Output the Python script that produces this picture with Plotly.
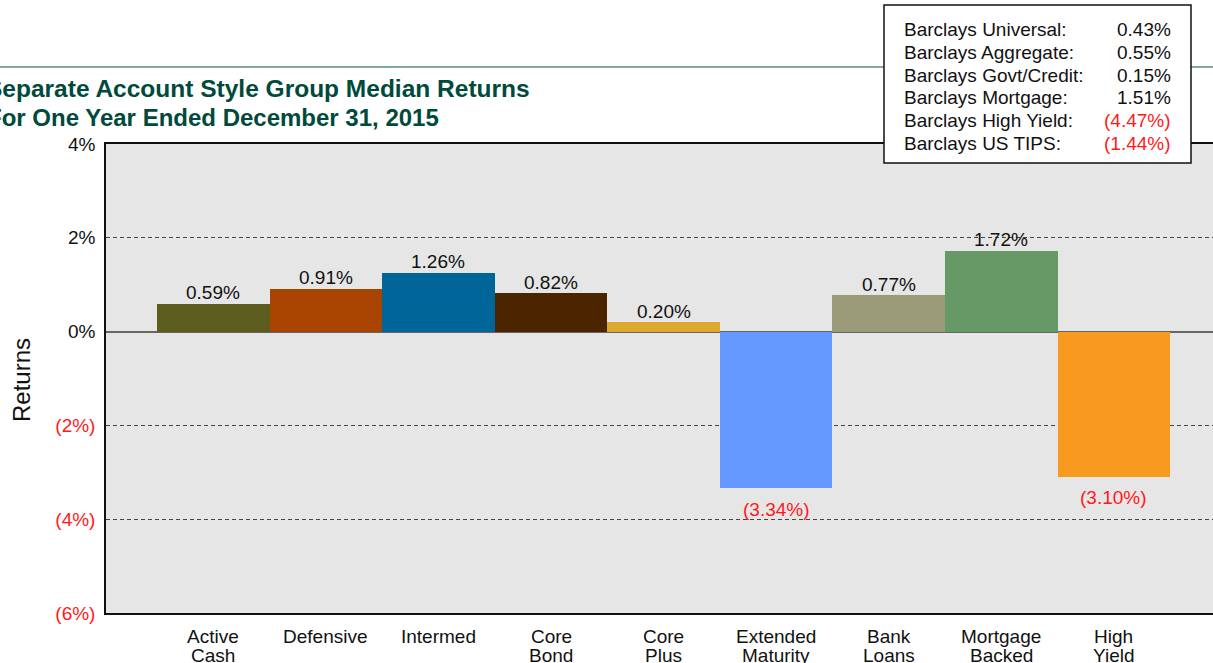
import plotly.graph_objects as go

# ---------------- data ----------------
categories = ["Active<br>Cash", "Defensive", "Intermed", "Core<br>Bond", "Core<br>Plus",
              "Extended<br>Maturity", "Bank<br>Loans", "Mortgage<br>Backed", "High<br>Yield"]
returns = [0.59, 0.91, 1.26, 0.82, 0.20, -3.34, 0.77, 1.72, -3.10]
bar_colors = ["#5c5c1f", "#a84300", "#006699", "#4a2500", "#dcaa30",
              "#6699ff", "#9a9a78", "#669966", "#f89a20"]

bench_names = ["Barclays Universal:", "Barclays Aggregate:", "Barclays Govt/Credit:",
               "Barclays Mortgage:", "Barclays High Yield:", "Barclays US TIPS:"]
bench_values = [0.43, 0.55, 0.15, 1.51, -4.47, -1.44]

y_tickvals = [-6, -4, -2, 0, 2, 4]

title_lines = ["Separate Account Style Group Median Returns",
               "For One Year Ended December 31, 2015"]

# ---------------- helpers ----------------
W, H = 1213, 663
ML, MR, MT, MB = 106, 0, 144, 50
PW, PH = W - ML - MR, H - MT - MB


def px(x):
    return (x - ML) / PW


def py(y):
    return (H - MB - y) / PH


def fmt(v):
    return f"{v:.2f}%" if v >= 0 else f"({abs(v):.2f}%)"


def tick_fmt(v):
    if v < 0:
        return f"<span style='color:#ff1a1a'>({abs(v)}%)</span>"
    return f"{v}%"


RED = "#ff1a1a"
FONT = "Liberation Sans, Arial, sans-serif"

fig = go.Figure()
fig.add_trace(go.Bar(
    x=categories, y=returns,
    marker=dict(color=bar_colors, line=dict(width=0)),
    width=1.0,
    showlegend=False,
    hoverinfo="x+y",
))

annotations = []
# bar value labels
for c, v in zip(categories, returns):
    annotations.append(dict(
        x=c, xref="x", y=v, yref="y", text=fmt(v), showarrow=False,
        xanchor="center", yanchor="middle", yshift=11 if v >= 0 else -21,
        font=dict(size=19, family=FONT, color=RED if v < 0 else "#111111")))

# category labels (two lines each)
for c in categories:
    parts = c.split("<br>")
    for i, p in enumerate(parts):
        annotations.append(dict(
            x=c, xref="x", y=py(636 + i * 19), yref="paper", text=p, showarrow=False,
            xanchor="center", yanchor="middle",
            font=dict(size=19, family=FONT, color="#111111")))

# title
for i, (t, x0, fs) in enumerate(zip(title_lines, [-16.3, -14.7], [24.5, 24])):
    annotations.append(dict(
        x=px(x0), xref="paper", y=py(88 + i * 29), yref="paper", text=f"<b>{t}</b>",
        showarrow=False, xanchor="left", yanchor="middle",
        font=dict(size=fs, family=FONT, color="#004a3c")))

# y axis title
annotations.append(dict(
    x=px(21), xref="paper", y=py(380), yref="paper", text="Returns", textangle=-90,
    showarrow=False, xanchor="center", yanchor="middle",
    font=dict(size=24, family=FONT, color="#111111")))

# benchmark box text
for i, (n, v) in enumerate(zip(bench_names, bench_values)):
    yy = py(29.5 + i * 22.8)
    annotations.append(dict(x=px(902), xref="paper", y=yy, yref="paper", text=n,
                            showarrow=False, xanchor="left", yanchor="middle",
                            font=dict(size=19, family=FONT, color="#111111")))
    annotations.append(dict(x=px(1173), xref="paper", y=yy, yref="paper", text=fmt(v),
                            showarrow=False, xanchor="right", yanchor="middle",
                            font=dict(size=19, family=FONT,
                                      color=RED if v < 0 else "#111111")))

shapes = [
    dict(type="line", xref="paper", yref="paper", x0=px(-5), x1=px(W + 5), y0=py(67), y1=py(67),
         line=dict(color="#5b8c82", width=1.5), layer="above"),
    dict(type="rect", xref="paper", yref="paper", x0=px(884), x1=px(1191), y0=py(163), y1=py(5),
         line=dict(color="#111111", width=1.5), fillcolor="white", layer="above"),
]

fig.update_layout(
    width=W, height=H,
    margin=dict(l=ML, r=MR, t=MT, b=MB, pad=0),
    paper_bgcolor="white", plot_bgcolor="#e6e6e6",
    bargap=0,
    font=dict(family=FONT, size=19, color="#111111"),
    annotations=annotations, shapes=shapes,
    xaxis=dict(range=[-0.953, 8.88], showticklabels=False, showgrid=False,
               showline=True, mirror=True, linecolor="#111111", linewidth=1.5,
               ticks="", zeroline=False, fixedrange=True),
    yaxis=dict(range=[-6, 4], tickvals=y_tickvals, ticktext=[tick_fmt(v) for v in y_tickvals],
               showgrid=True, gridcolor="#444444", gridwidth=1, griddash="4px,3px",
               zeroline=True, zerolinecolor="#666666", zerolinewidth=1.5,
               showline=True, linecolor="#111111", linewidth=1.5, mirror=False,
               ticks="", ticklabelstandoff=5, tickfont=dict(size=19, family=FONT),
               fixedrange=True),
)

fig.write_html(
    "out.html",
    config={"displayModeBar": False},
    post_script="document.body.style.margin='0';document.body.style.overflow='hidden';",
)
